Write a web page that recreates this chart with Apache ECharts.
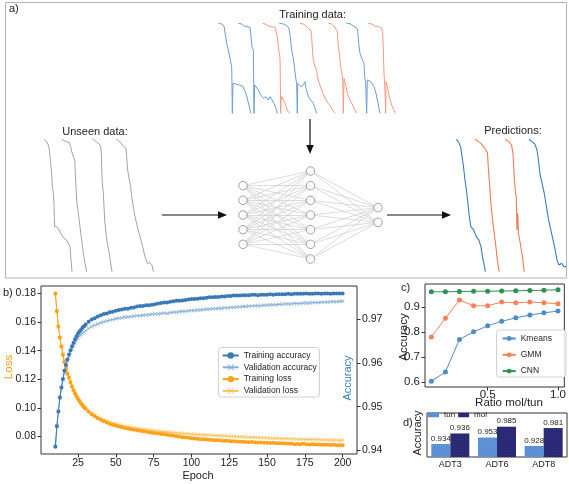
<!DOCTYPE html>
<html><head><meta charset="utf-8">
<script src="https://cdn.jsdelivr.net/npm/echarts@6/dist/echarts.min.js"></script>
<style>html,body{margin:0;padding:0;background:#fff}#c{width:569px;height:484px}</style>
</head><body><div id="c"></div>
<script>
// ================= DATA =================
// ---- panel a: schematic traces (time, depth units of each sub-panel) ----
const trainingClasses = [0, 0, 1, 0, 1, 1, 0, 1];   // 0 = tun (blue), 1 = mol (orange)
const trainingTraces = [
 [[55,70],[65,72],[72,78],[75,82],[77,110],[80,130],[85,150],[90,175],[93,180],[95,200],[96,260],[97,340],[98,340],[99,250],[103,245],[108,252],[112,248],[117,255],[122,250],[128,258],[133,262],[138,280],[143,300],[148,320],[152,340]],
 [[115,70],[125,72],[133,78],[140,80],[150,82],[155,85],[156,140],[160,150],[161,250],[162,340],[163,340],[164,255],[168,258],[175,270],[182,285],[190,295],[197,290],[205,300],[210,290],[215,295],[222,310],[228,325],[232,340]],
 [[188,70],[195,72],[205,78],[215,80],[225,82],[230,88],[232,110],[235,140],[238,160],[240,175],[241,240],[242,340],[243,300],[246,290],[250,295],[255,310],[262,330],[268,340]],
 [[238,70],[250,72],[258,76],[265,82],[268,90],[272,120],[275,150],[280,175],[285,180],[288,240],[290,250],[292,340],[293,250],[297,255],[303,260],[310,255],[315,245],[318,265],[325,290],[332,300],[340,310],[345,325],[350,340]],
 [[300,70],[310,72],[318,78],[325,85],[332,90],[335,110],[338,160],[340,180],[345,200],[350,210],[352,230],[358,250],[365,270],[375,295],[385,310],[392,320],[398,330],[405,340]],
 [[385,70],[395,72],[402,78],[408,82],[412,95],[415,140],[418,160],[422,200],[425,215],[428,235],[429,290],[430,340],[432,235],[436,250],[442,280],[450,300],[458,315],[465,330],[470,340]],
 [[440,70],[452,72],[460,78],[468,82],[473,90],[476,130],[480,160],[485,175],[492,190],[494,230],[497,250],[500,340],[502,240],[507,235],[512,245],[518,245],[522,260],[528,280],[534,310],[540,340]],
 [[505,70],[515,72],[525,78],[535,80],[545,85],[548,95],[550,150],[552,220],[554,250],[556,300],[557,340],[558,245],[562,260],[568,290],[575,315],[582,330],[585,340]]
];
const unseenTraces = [
 [[132,58],[140,65],[145,75],[148,90],[150,110],[152,130],[155,160],[157,200],[160,220],[162,250],[163,290],[164,320],[170,320],[178,330],[185,345],[192,355],[200,360],[205,365],[210,380],[213,420],[216,455]],
 [[185,58],[192,62],[200,65],[208,68],[212,80],[215,95],[220,100],[224,120],[226,160],[228,200],[230,240],[235,280],[240,320],[245,360],[250,400],[255,430],[260,455]],
 [[278,58],[285,62],[292,68],[298,72],[302,80],[304,100],[305,140],[307,190],[310,220],[312,260],[314,300],[318,340],[322,370],[328,400],[332,430],[336,455]],
 [[350,58],[358,64],[365,72],[372,80],[378,85],[380,110],[383,150],[388,180],[392,200],[395,230],[400,260],[405,290],[412,320],[420,350],[428,380],[435,410],[442,430],[450,428],[456,435],[460,455]]
];
const predictionClasses = [0, 1, 1, 0];
const predictionTraces = [
 [[1250,418],[1256,425],[1262,440],[1266,470],[1270,500],[1274,540],[1278,570],[1282,610],[1286,650],[1290,680],[1298,690],[1305,710],[1312,720],[1318,740],[1322,770],[1326,790],[1330,815]],
 [[1302,418],[1310,425],[1318,430],[1325,440],[1332,450],[1336,460],[1338,500],[1342,560],[1346,620],[1352,680],[1358,730],[1363,780],[1368,815]],
 [[1385,418],[1395,425],[1402,435],[1406,460],[1408,500],[1410,540],[1413,580],[1415,590],[1417,690],[1419,640],[1421,700],[1426,730],[1432,770],[1437,815]],
 [[1450,418],[1458,425],[1466,432],[1472,450],[1476,480],[1480,520],[1486,550],[1492,580],[1498,620],[1504,660],[1510,690],[1516,720],[1522,750],[1527,780],[1532,795],[1540,790],[1546,800],[1552,800]]
];
const layerSizes = [5, 7, 2];

// ---- panel b ----
const epochs = [10,11,12,13,14,15,16,17,18,19,20,21,22,23,24,25,26,27,28,29,30,
 32,34,36,38,40,42,44,46,48,50,
 52,54,56,58,60,62,64,66,68,70,
 72,74,76,78,80,82,84,86,88,90,
 92,94,96,98,100,102,104,106,108,110,
 112,114,116,118,120,122,124,126,128,130,
 132,134,136,138,140,142,144,146,148,150,
 152,154,156,158,160,162,164,166,168,170,
 172,174,176,178,180,182,184,186,188,190,
 192,194,196,198,200];
const trainAcc = [.9408,.9455,.9489,.9521,.9544,.9563,.9582,.9595,.9608,.9619,.9629,.9638,.9646,.9654,.9661,.9667,.9672,.9676,.9681,.9684,.9688,
 .9694,.9699,.9702,.9706,.9709,.9712,.9713,.9716,.9717,.9719,
 .9721,.9722,.9724,.9724,.9726,.9727,.9729,.9730,.9730,.9732,
 .9732,.9733,.9734,.9736,.9737,.9738,.9738,.9740,.9741,.9742,
 .9742,.9743,.9744,.9745,.9746,.9746,.9747,.9748,.9748,.9749,
 .9750,.9750,.9751,.9751,.9752,.9752,.9753,.9753,.9754,.9754,
 .9754,.9755,.9755,.9755,.9756,.9756,.9755,.9756,.9756,.9756,
 .9757,.9756,.9757,.9757,.9757,.9757,.9758,.9757,.9758,.9758,
 .9758,.9758,.9759,.9758,.9758,.9759,.9759,.9758,.9759,.9759,
 .9758,.9759,.9759,.9759,.9759];
const valAcc = [.9410,.9456,.9490,.9520,.9542,.9561,.9579,.9593,.9605,.9615,.9624,.9632,.9639,.9646,.9652,.9657,.9661,.9665,.9668,.9671,.9674,
 .9679,.9683,.9686,.9689,.9692,.9694,.9696,.9698,.9699,.9701,
 .9702,.9703,.9705,.9705,.9706,.9707,.9708,.9708,.9709,.9710,
 .9710,.9711,.9712,.9712,.9713,.9714,.9713,.9715,.9716,.9716,
 .9717,.9718,.9718,.9719,.9720,.9720,.9721,.9721,.9722,.9723,
 .9723,.9724,.9724,.9725,.9725,.9726,.9726,.9727,.9727,.9728,
 .9728,.9729,.9729,.9730,.9730,.9731,.9731,.9731,.9732,.9732,
 .9733,.9733,.9733,.9734,.9734,.9735,.9735,.9735,.9736,.9736,
 .9736,.9737,.9737,.9737,.9738,.9738,.9738,.9739,.9739,.9739,
 .9740,.9740,.9740,.9741,.9741];
const trainLoss = [.1800,.1678,.1569,.1492,.1430,.1372,.1321,.1275,.1238,.1210,.1180,.1150,.1124,.1101,.1080,.1062,.1046,.1031,.1017,.1004,.0993,
 .0973,.0956,.0941,.0928,.0916,.0906,.0898,.0889,.0882,.0875,
 .0869,.0865,.0859,.0855,.0851,.0847,.0843,.0840,.0836,.0833,
 .0830,.0825,.0822,.0820,.0817,.0815,.0812,.0808,.0806,.0802,
 .0799,.0795,.0792,.0790,.0787,.0786,.0784,.0781,.0780,.0778,
 .0777,.0775,.0774,.0773,.0770,.0769,.0770,.0766,.0766,.0764,
 .0762,.0763,.0761,.0760,.0761,.0758,.0757,.0758,.0756,.0755,
 .0754,.0756,.0753,.0752,.0753,.0751,.0750,.0750,.0746,.0747,
 .0746,.0748,.0745,.0744,.0745,.0743,.0744,.0742,.0741,.0742,
 .0740,.0741,.0739,.0740,.0738];
const valLoss = [.1798,.1676,.1568,.1492,.1432,.1375,.1325,.1280,.1243,.1214,.1184,.1155,.1129,.1106,.1086,.1068,.1052,.1037,.1024,.1011,.1000,
 .0981,.0964,.0950,.0937,.0926,.0916,.0908,.0900,.0893,.0887,
 .0881,.0876,.0871,.0867,.0863,.0859,.0856,.0853,.0850,.0847,
 .0845,.0842,.0840,.0837,.0835,.0833,.0831,.0829,.0827,.0825,
 .0823,.0821,.0820,.0818,.0816,.0815,.0814,.0812,.0811,.0810,
 .0809,.0807,.0806,.0805,.0804,.0803,.0802,.0801,.0800,.0799,
 .0798,.0797,.0796,.0795,.0794,.0793,.0792,.0791,.0790,.0789,
 .0788,.0787,.0787,.0786,.0785,.0784,.0784,.0783,.0782,.0781,
 .0781,.0780,.0779,.0779,.0778,.0777,.0777,.0776,.0776,.0775,
 .0775,.0774,.0774,.0773,.0773];
const epochTicks = [25, 50, 75, 100, 125, 150, 175, 200];
const lossTicks = [0.08, 0.10, 0.12, 0.14, 0.16, 0.18];
const accTicks = [0.94, 0.95, 0.96, 0.97];

// ---- panel c ----
const ratios = [0.1, 0.2, 0.3, 0.4, 0.5, 0.6, 0.7, 0.8, 0.9, 1.0];
const kmeans = [0.603, 0.640, 0.770, 0.800, 0.824, 0.842, 0.856, 0.867, 0.876, 0.883];
const gmm    = [0.780, 0.854, 0.927, 0.904, 0.904, 0.919, 0.916, 0.919, 0.916, 0.912];
const cnn    = [0.960, 0.960, 0.961, 0.962, 0.962, 0.963, 0.964, 0.965, 0.966, 0.968];
const ratioTicks = [0.5, 1.0];
const accCTicks = [0.6, 0.7, 0.8, 0.9];

// ---- panel d ----
const adtCats = ['ADT3', 'ADT6', 'ADT8'];
const tunVals = [0.934, 0.953, 0.928];
const molBarVals = [0.965, 0.985, 0.981];   // bar heights as drawn
const molLabels = ['0.936', '0.985', '0.981']; // printed values

// ================= CHART =================
const F = 'Liberation Sans, Arial, sans-serif';
const TXT = '#222';
const FRAME = '#333';
const chart = echarts.init(document.getElementById('c'), null, {renderer: 'canvas'});

const hx = (g, min, max) => ({gridIndex: g, type: 'value', min, max, show: false});
const hy = (g, min, max) => ({gridIndex: g, type: 'value', min, max, inverse: true, show: false});
const frameGrid = (l, t, w, h) => ({left: l, top: t, width: w, height: h, show: true, borderColor: FRAME, borderWidth: 1, backgroundColor: 'transparent'});
const valAxis = (g, min, max, ticks, fmt, margin, fs, extra) => Object.assign({
  gridIndex: g, type: 'value', min, max,
  axisLine: {show: false}, splitLine: {show: false},
  axisTick: {show: true, customValues: ticks, length: 3.5, lineStyle: {color: FRAME, width: 1}},
  axisLabel: {customValues: ticks, formatter: fmt, margin, fontSize: fs, color: TXT, fontFamily: F}
}, extra || {});

const traceColors = {
  train: ['#6b9dd4', '#f69a7c'],
  pred: ['#3a7bc2', '#f27a52']
};
const XSYM = 'path://M0,1L1,0L5,4L9,0L10,1L6,5L10,9L9,10L5,6L1,10L0,9L4,5Z';

const series = [];
trainingTraces.forEach((t, i) => series.push({type: 'line', xAxisIndex: 0, yAxisIndex: 0, data: t, symbol: 'none', silent: true,
  lineStyle: {width: 1, color: traceColors.train[trainingClasses[i]]}}));
unseenTraces.forEach(t => series.push({type: 'line', xAxisIndex: 1, yAxisIndex: 1, data: t, symbol: 'none', silent: true,
  lineStyle: {width: 1, color: '#a3a3a3'}}));
predictionTraces.forEach((t, i) => series.push({type: 'line', xAxisIndex: 2, yAxisIndex: 2, data: t, symbol: 'none', silent: true,
  lineStyle: {width: 1.1, color: traceColors.pred[predictionClasses[i]]}}));

// network
const nodes = [];
layerSizes.forEach((n, L) => { for (let i = 0; i < n; i++) nodes.push([L, i - (n - 1) / 2]); });
const edges = [];
for (let L = 0; L < layerSizes.length - 1; L++) {
  const a = nodes.filter(p => p[0] === L), b = nodes.filter(p => p[0] === L + 1);
  a.forEach(p => b.forEach(q => edges.push({coords: [p, q]})));
}
series.push({type: 'lines', coordinateSystem: 'cartesian2d', xAxisIndex: 3, yAxisIndex: 3, data: edges, silent: true,
  lineStyle: {color: '#cdcdcd', width: 0.7, opacity: 1}, z: 2});
series.push({type: 'scatter', xAxisIndex: 3, yAxisIndex: 3, data: nodes, symbol: 'circle', symbolSize: 8.5, silent: true, z: 3,
  itemStyle: {color: '#fff', borderColor: '#8a8a8a', borderWidth: 1}});

// panel b
const pairs = arr => epochs.map((e, i) => [e, arr[i]]);
series.push({name: 'Validation loss', type: 'line', xAxisIndex: 4, yAxisIndex: 4, data: pairs(valLoss),
  symbol: XSYM, symbolSize: 4, color: '#ffc25e', lineStyle: {width: 1, color: '#ffc25e'}, itemStyle: {color: '#ffc25e'}});
series.push({name: 'Training loss', type: 'line', xAxisIndex: 4, yAxisIndex: 4, data: pairs(trainLoss),
  symbol: 'circle', symbolSize: 4, color: '#ffa21a', lineStyle: {width: 1, color: '#ffa21a'}, itemStyle: {color: '#ffa21a'}});
series.push({name: 'Validation accuracy', type: 'line', xAxisIndex: 4, yAxisIndex: 7, data: pairs(valAcc),
  symbol: XSYM, symbolSize: 4, color: '#85afd9', lineStyle: {width: 1, color: '#85afd9'}, itemStyle: {color: '#85afd9'}});
series.push({name: 'Training accuracy', type: 'line', xAxisIndex: 4, yAxisIndex: 7, data: pairs(trainAcc),
  symbol: 'circle', symbolSize: 4, color: '#3a78b8', lineStyle: {width: 1, color: '#3a78b8'}, itemStyle: {color: '#3a78b8'}});

// panel c
const cPairs = arr => ratios.map((r, i) => [r, arr[i]]);
[['Kmeans', kmeans, '#4f8cc9'], ['GMM', gmm, '#f4825a'], ['CNN', cnn, '#2e9152']].forEach(([n, d, col]) =>
  series.push({name: n, type: 'line', xAxisIndex: 5, yAxisIndex: 5, data: cPairs(d), symbol: 'circle', symbolSize: 5,
    color: col, lineStyle: {width: 1, color: col}, itemStyle: {color: col}}));

// panel d
const dotDecal = {symbol: 'circle', symbolSize: 0.5, color: 'rgba(255,255,255,0.12)', dashArrayX: [2, 1], dashArrayY: [2, 1]};
series.push({name: 'tun', type: 'bar', xAxisIndex: 6, yAxisIndex: 6, data: tunVals, barWidth: 19, barGap: '0%',
  itemStyle: {color: '#5b8fd6', decal: dotDecal},
  label: {show: true, position: 'top', distance: 1.5, fontSize: 8, color: TXT, fontFamily: F, formatter: p => tunVals[p.dataIndex].toFixed(3)}});
series.push({name: 'mol', type: 'bar', xAxisIndex: 6, yAxisIndex: 6, data: molBarVals, barWidth: 19, barGap: '0%',
  itemStyle: {color: '#282875', decal: dotDecal},
  label: {show: true, position: 'top', distance: 1.5, fontSize: 8, color: TXT, fontFamily: F, formatter: p => molLabels[p.dataIndex]}});

const txt = (x, y, text, opt) => Object.assign({type: 'text', x, y, z: 10,
  style: Object.assign({text, fontSize: 11, fontFamily: F, fill: TXT, textAlign: 'center', textVerticalAlign: 'middle'}, (opt && opt.style) || {})},
  opt ? {rotation: opt.rotation || 0} : {});
const arrowGroup = (pts, head) => [
  {type: 'line', shape: {x1: pts[0], y1: pts[1], x2: pts[2], y2: pts[3]}, style: {stroke: '#111', lineWidth: 1.2}, z: 10},
  {type: 'polygon', shape: {points: head}, style: {fill: '#111'}, z: 10}
];

const graphic = [
  {type: 'rect', shape: {x: 5.5, y: 2.5, width: 561, height: 275.5}, style: {fill: 'none', stroke: '#b4b4b4', lineWidth: 1}, z: 1},
  txt(9, 9, 'a)', {style: {textAlign: 'left'}}),
  txt(312.6, 15, 'Training data:'),
  txt(95, 131.5, 'Unseen data:'),
  txt(513, 130.5, 'Predictions:'),
  ...arrowGroup([310, 119, 310, 146], [[306.3, 145], [313.7, 145], [310, 154]]),
  ...arrowGroup([162, 215, 219, 215], [[218, 211.3], [227, 215], [218, 218.7]]),
  ...arrowGroup([387, 215, 443, 215], [[442, 211.3], [451, 215], [442, 218.7]]),
  txt(3, 293, 'b)', {style: {textAlign: 'left'}}),
  txt(198, 475.5, 'Epoch'),
  txt(9, 367, 'Loss', {rotation: Math.PI / 2, style: {fill: '#ffa01c', fontSize: 11.5}}),
  txt(347.5, 378, 'Accuracy', {rotation: Math.PI / 2, style: {fill: '#3a80c2', fontSize: 11}}),
  {type: 'rect', shape: {x: 218.5, y: 347.5, width: 101, height: 49.5, r: 3}, style: {fill: 'rgba(255,255,255,0.85)', stroke: '#d2d2d2', lineWidth: 1}, z: 3},
  txt(401, 288, 'c)', {style: {textAlign: 'left'}}),
  txt(404, 337, 'Accuracy', {rotation: Math.PI / 2, style: {fontSize: 11.5}}),
  txt(509, 403, 'Ratio mol/tun', {style: {fontSize: 11.5}}),
  {type: 'rect', shape: {x: 496.5, y: 330, width: 69.5, height: 47, r: 3}, style: {fill: 'rgba(255,255,255,0.85)', stroke: '#d2d2d2', lineWidth: 1}, z: 3},
  txt(403, 423, 'd)', {style: {textAlign: 'left'}}),
  txt(418, 433, 'Accuracy', {rotation: Math.PI / 2, style: {fontSize: 11}})
];

chart.setOption({
  animation: false,
  backgroundColor: '#fff',
  grid: [
    {left: 216.67, top: 20, width: 180, height: 95},
    {left: 40, top: 136.67, width: 116.67, height: 136.67},
    {left: 452.6, top: 133.3, width: 116.8, height: 143.3},
    {left: 243, top: 171, width: 135, height: 88},
    frameGrid(41, 286, 316, 168),
    frameGrid(425, 284, 141, 103),
    frameGrid(427, 413, 140, 44)
  ],
  xAxis: [
    hx(0, 50, 590), hx(1, 120, 470), hx(2, 1240, 1560), hx(3, 0, 2),
    valAxis(4, 0.5, 209.5, epochTicks, v => String(v), 4, 10.5),
    valAxis(5, 0.055, 1.045, ratioTicks, v => v.toFixed(1), 2, 11.5),
    {gridIndex: 6, type: 'category', data: adtCats, axisLine: {show: false}, axisTick: {show: false},
     axisLabel: {fontSize: 9, color: TXT, fontFamily: F, margin: 3}}
  ],
  yAxis: [
    hy(0, 60, 345), hy(1, 50, 460), hy(2, 400, 830), hy(3, -3, 3),
    valAxis(4, 0.0677, 0.1853, lossTicks, v => v.toFixed(2), 5, 10.5),
    valAxis(5, 0.58, 0.991, accCTicks, v => v.toFixed(1), 5, 11.5),
    {gridIndex: 6, type: 'value', min: 0.8955, max: 1.0255, axisLine: {show: false}, axisTick: {show: false}, axisLabel: {show: false}, splitLine: {show: false}},
    valAxis(4, 0.93916, 0.97759, accTicks, v => v.toFixed(2), 5, 10.5, {position: 'right'})
  ],
  legend: [
    {data: ['Training accuracy', 'Validation accuracy', 'Training loss', 'Validation loss'], orient: 'vertical',
     left: 221.7, top: 351, padding: 0, itemWidth: 16, itemHeight: 8, itemGap: 2.8, selectedMode: false, z: 5,
     textStyle: {fontSize: 8.5, color: TXT, fontFamily: F}},
    {data: ['Kmeans', 'GMM', 'CNN'], orient: 'vertical', left: 501.7, top: 334, padding: 0, itemWidth: 13, itemHeight: 6,
     itemGap: 7.3, selectedMode: false, z: 5, textStyle: {fontSize: 8.5, color: TXT, fontFamily: F}},
    {data: ['tun', 'mol'], orient: 'horizontal', left: 428, top: 411, padding: 0, itemWidth: 11, itemHeight: 4.5, itemGap: 3,
     icon: 'rect', selectedMode: false, z: 5, textStyle: {fontSize: 8, color: TXT, fontFamily: F}}
  ],
  graphic,
  series
});
</script></body></html>
